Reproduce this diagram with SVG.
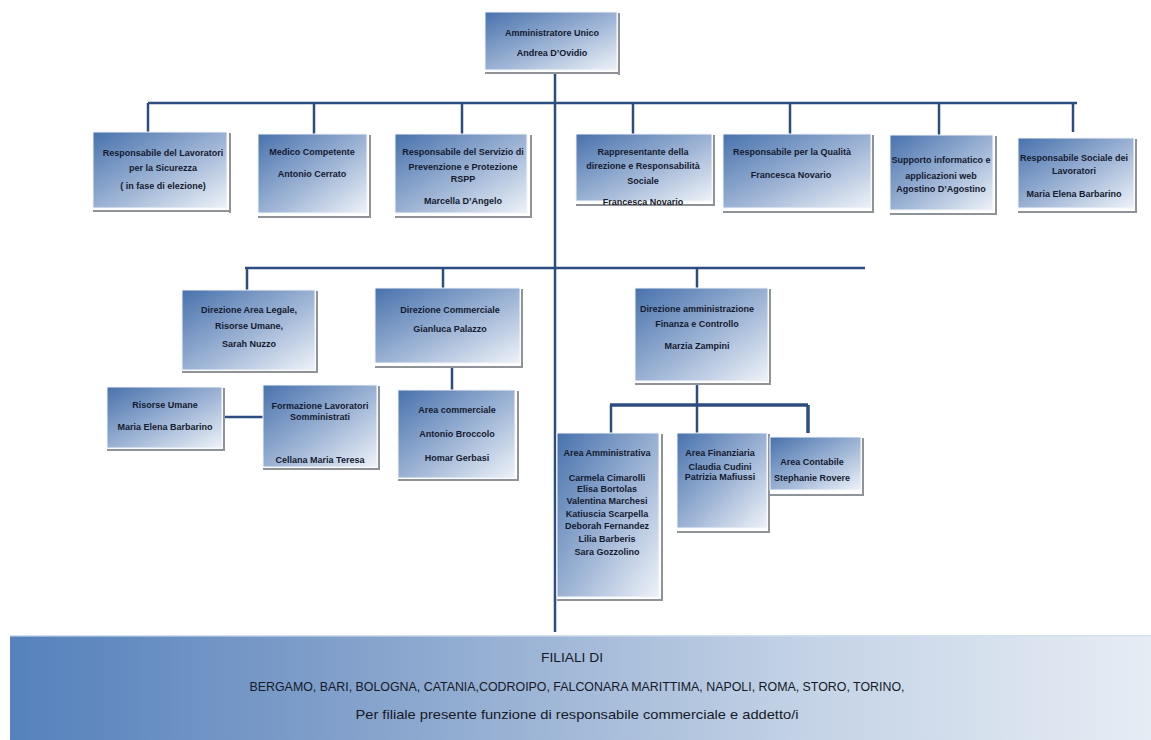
<svg xmlns="http://www.w3.org/2000/svg" width="1151" height="740" viewBox="0 0 1151 740">
  <defs>
    <linearGradient id="boxFill" x1="0" y1="0" x2="1" y2="1">
      <stop offset="0" stop-color="#4872ad"/>
      <stop offset="0.55" stop-color="#a0b6d6"/>
      <stop offset="1" stop-color="#eef2f8"/>
    </linearGradient>
    <linearGradient id="bandFill" x1="0" y1="0" x2="1" y2="0">
      <stop offset="0" stop-color="#5581bc"/>
      <stop offset="0.3" stop-color="#83a1cb"/>
      <stop offset="0.7" stop-color="#c4d3e6"/>
      <stop offset="1" stop-color="#e6ecf4"/>
    </linearGradient>
    <style>
      .box { fill: url(#boxFill); stroke: #f4f6fa; stroke-width: 1; }
      .sh { fill: #8f9297; }
      .t { font-family: "Liberation Sans", Arial, sans-serif; font-weight: bold; font-size: 9px; fill: #141a30; text-anchor: middle; }
      .ft { font-family: "Liberation Sans", Arial, sans-serif; font-size: 13px; fill: #151a28; text-anchor: middle; }
      .ln { stroke: #2d4c7f; stroke-width: 2.5; fill: none; }
      .ln3 { stroke: #2d4c7f; stroke-width: 3.5; fill: none; }
    </style>
  </defs>

  <rect width="1151" height="740" fill="#ffffff"/>

  <!-- connectors -->
  <g id="connectors">
    <line class="ln" x1="555" y1="72" x2="555" y2="632"/>
    <line class="ln" x1="148" y1="103" x2="1077" y2="103"/>
    <line class="ln" x1="148" y1="103" x2="148" y2="132"/>
    <line class="ln" x1="314" y1="103" x2="314" y2="134"/>
    <line class="ln" x1="462" y1="103" x2="462" y2="134"/>
    <line class="ln" x1="633" y1="103" x2="633" y2="134"/>
    <line class="ln" x1="790" y1="103" x2="790" y2="134"/>
    <line class="ln" x1="939" y1="103" x2="939" y2="135"/>
    <line class="ln" x1="1073" y1="103" x2="1073" y2="132"/>
    <line class="ln" x1="245" y1="268" x2="865" y2="268"/>
    <line class="ln" x1="247" y1="268" x2="247" y2="290"/>
    <line class="ln" x1="443" y1="268" x2="443" y2="288"/>
    <line class="ln" x1="697" y1="268" x2="697" y2="288"/>
    <line class="ln" x1="452" y1="368" x2="452" y2="390"/>
    <line class="ln" x1="225" y1="417" x2="263" y2="417"/>
    <line class="ln" x1="697" y1="385" x2="697" y2="405"/>
    <line class="ln3" x1="610" y1="405" x2="808" y2="405"/>
    <line class="ln" x1="611" y1="405" x2="611" y2="433"/>
    <line class="ln" x1="697" y1="405" x2="697" y2="433"/>
    <line class="ln3" x1="808" y1="405" x2="808" y2="433"/>
  </g>

  <!-- top -->
  <g id="amministratore">
    <rect class="sh" x="618" y="13" width="2" height="62"/>
    <rect class="sh" x="485" y="72" width="135" height="2"/>
    <rect class="box" x="485" y="12" width="132" height="58"/>
    <text class="t" x="552" y="36">Amministratore Unico</text>
    <text class="t" x="552" y="56">Andrea D’Ovidio</text>
  </g>

  <!-- first row -->
  <g id="rls">
    <rect class="sh" x="229" y="133" width="2" height="80"/>
    <rect class="sh" x="93" y="210" width="138" height="2"/>
    <rect class="box" x="93" y="132" width="134" height="76"/>
    <text class="t" x="163" y="156">Responsabile del Lavoratori</text>
    <text class="t" x="163" y="171">per la Sicurezza</text>
    <text class="t" x="163" y="189">( in fase di elezione)</text>
  </g>
  <g id="medico">
    <rect class="sh" x="369" y="135" width="2" height="83"/>
    <rect class="sh" x="258" y="216" width="113" height="2"/>
    <rect class="box" x="258" y="134" width="109" height="79"/>
    <text class="t" x="312" y="155">Medico Competente</text>
    <text class="t" x="312" y="177">Antonio Cerrato</text>
  </g>
  <g id="rspp">
    <rect class="sh" x="530" y="135" width="2" height="83"/>
    <rect class="sh" x="395" y="216" width="137" height="2"/>
    <rect class="box" x="395" y="134" width="132" height="79"/>
    <text class="t" x="463" y="155">Responsabile del Servizio di</text>
    <text class="t" x="463" y="170">Prevenzione e Protezione</text>
    <text class="t" x="463" y="182">RSPP</text>
    <text class="t" x="463" y="204">Marcella D’Angelo</text>
  </g>
  <g id="rappresentante">
    <rect class="sh" x="713" y="135" width="2" height="71"/>
    <rect class="sh" x="576" y="204" width="139" height="2"/>
    <rect class="box" x="576" y="134" width="136" height="67"/>
    <text class="t" x="643" y="155">Rappresentante della</text>
    <text class="t" x="643" y="169">direzione e Responsabilità</text>
    <text class="t" x="643" y="184">Sociale</text>
    <text class="t" x="643" y="205">Francesca Novario</text>
  </g>
  <g id="qualita">
    <rect class="sh" x="872" y="135" width="2" height="78"/>
    <rect class="sh" x="723" y="211" width="151" height="2"/>
    <rect class="box" x="723" y="134" width="148" height="74"/>
    <text class="t" x="792" y="155">Responsabile per la Qualità</text>
    <text class="t" x="791" y="178">Francesca Novario</text>
  </g>
  <g id="informatico">
    <rect class="sh" x="995" y="136" width="2" height="79"/>
    <rect class="sh" x="890" y="213" width="107" height="2"/>
    <rect class="box" x="890" y="135" width="103" height="75"/>
    <text class="t" x="941" y="163">Supporto informatico e</text>
    <text class="t" x="941" y="179">applicazioni web</text>
    <text class="t" x="941" y="192">Agostino D’Agostino</text>
  </g>
  <g id="sociale">
    <rect class="sh" x="1135" y="139" width="2" height="74"/>
    <rect class="sh" x="1018" y="211" width="119" height="2"/>
    <rect class="box" x="1018" y="138" width="116" height="70"/>
    <text class="t" x="1074" y="161">Responsabile Sociale dei</text>
    <text class="t" x="1074" y="174">Lavoratori</text>
    <text class="t" x="1074" y="197">Maria Elena Barbarino</text>
  </g>

  <!-- second row -->
  <g id="legale">
    <rect class="sh" x="316" y="291" width="2" height="82"/>
    <rect class="sh" x="182" y="371" width="136" height="2"/>
    <rect class="box" x="182" y="290" width="133" height="80"/>
    <text class="t" x="249" y="313">Direzione Area Legale,</text>
    <text class="t" x="249" y="329">Risorse Umane,</text>
    <text class="t" x="249" y="347">Sarah Nuzzo</text>
  </g>
  <g id="commerciale">
    <rect class="sh" x="521" y="289" width="2" height="79"/>
    <rect class="sh" x="375" y="366" width="148" height="2"/>
    <rect class="box" x="375" y="288" width="145" height="75"/>
    <text class="t" x="450" y="313">Direzione Commerciale</text>
    <text class="t" x="450" y="332">Gianluca Palazzo</text>
  </g>
  <g id="amministrazione">
    <rect class="sh" x="769" y="289" width="2" height="96"/>
    <rect class="sh" x="635" y="383" width="136" height="2"/>
    <rect class="box" x="635" y="288" width="133" height="93"/>
    <text class="t" x="697" y="312">Direzione  amministrazione</text>
    <text class="t" x="697" y="327">Finanza e Controllo</text>
    <text class="t" x="697" y="349">Marzia Zampini</text>
  </g>

  <!-- third row -->
  <g id="risorse-umane">
    <rect class="sh" x="223" y="388" width="2" height="63"/>
    <rect class="sh" x="107" y="449" width="118" height="2"/>
    <rect class="box" x="107" y="387" width="115" height="61"/>
    <text class="t" x="165" y="408">Risorse Umane</text>
    <text class="t" x="165" y="430">Maria Elena Barbarino</text>
  </g>
  <g id="formazione">
    <rect class="sh" x="378" y="386" width="2" height="84"/>
    <rect class="sh" x="263" y="468" width="117" height="2"/>
    <rect class="box" x="263" y="385" width="114" height="82"/>
    <text class="t" x="320" y="409">Formazione Lavoratori</text>
    <text class="t" x="320" y="420">Somministrati</text>
    <text class="t" x="320" y="463">Cellana Maria Teresa</text>
  </g>
  <g id="area-commerciale">
    <rect class="sh" x="517" y="391" width="2" height="90"/>
    <rect class="sh" x="398" y="479" width="121" height="2"/>
    <rect class="box" x="398" y="390" width="117" height="88"/>
    <text class="t" x="457" y="413">Area commerciale</text>
    <text class="t" x="457" y="437">Antonio Broccolo</text>
    <text class="t" x="457" y="461">Homar Gerbasi</text>
  </g>

  <!-- fourth row -->
  <g id="area-amministrativa">
    <rect class="sh" x="661" y="434" width="2" height="167"/>
    <rect class="sh" x="557" y="599" width="106" height="2"/>
    <rect class="box" x="557" y="433" width="102" height="164"/>
    <text class="t" x="607" y="456">Area Amministrativa</text>
    <text class="t" x="607" y="481">Carmela Cimarolli</text>
    <text class="t" x="607" y="492">Elisa Bortolas</text>
    <text class="t" x="607" y="504">Valentina Marchesi</text>
    <text class="t" x="607" y="517">Katiuscia Scarpella</text>
    <text class="t" x="607" y="529">Deborah Fernandez</text>
    <text class="t" x="607" y="542">Lilia Barberis</text>
    <text class="t" x="607" y="555">Sara Gozzolino</text>
  </g>
  <g id="area-finanziaria">
    <rect class="sh" x="768" y="434" width="2" height="99"/>
    <rect class="sh" x="677" y="531" width="93" height="2"/>
    <rect class="box" x="677" y="433" width="90" height="95"/>
    <text class="t" x="720" y="456">Area Finanziaria</text>
    <text class="t" x="720" y="470">Claudia Cudini</text>
    <text class="t" x="720" y="480">Patrizia Mafiussi</text>
  </g>
  <g id="area-contabile">
    <rect class="sh" x="862" y="438" width="2" height="58"/>
    <rect class="sh" x="770" y="494" width="94" height="2"/>
    <rect class="box" x="770" y="437" width="91" height="53"/>
    <text class="t" x="812" y="465">Area Contabile</text>
    <text class="t" x="812" y="481">Stephanie Rovere</text>
  </g>

  <!-- branches band -->
  <g id="filiali">
    <rect x="10" y="636" width="1141" height="104" fill="url(#bandFill)"/>
    <rect x="10" y="635" width="1141" height="1.5" fill="#d3e0ee"/>
    <text class="ft" x="572" y="662" textLength="62" lengthAdjust="spacingAndGlyphs">FILIALI DI</text>
    <text class="ft" x="577" y="691" textLength="655" lengthAdjust="spacingAndGlyphs">BERGAMO, BARI, BOLOGNA, CATANIA,CODROIPO, FALCONARA MARITTIMA, NAPOLI, ROMA, STORO, TORINO,</text>
    <text class="ft" x="577" y="719" textLength="443" lengthAdjust="spacingAndGlyphs">Per filiale presente funzione di responsabile commerciale e addetto/i</text>
  </g>
</svg>
